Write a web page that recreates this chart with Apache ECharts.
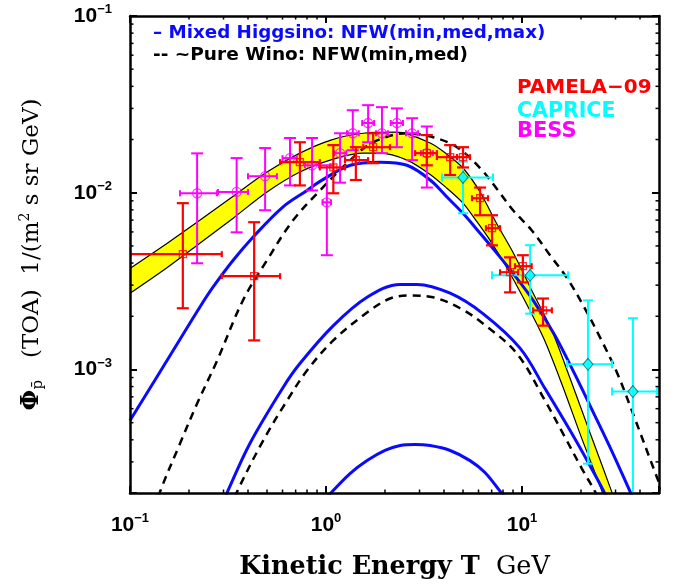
<!DOCTYPE html>
<html><head><meta charset="utf-8">
<script src="https://cdn.jsdelivr.net/npm/echarts@6/dist/echarts.min.js"></script>
<style>html,body{margin:0;padding:0;background:#fff}#c{width:681px;height:588px}</style>
</head><body><div id="c"></div>
<script>
// ---------- curves ----------
var bandUpperT   = [0.1, 0.155, 0.227, 0.336, 0.5, 0.736, 1.05, 1.55, 2.30, 3.40, 4.14, 5.0, 6.11, 7.36, 9.10, 11.2, 14.2, 17.6, 22.2, 28.8, 30.9];
var bandUpperPhi = [3.73e-3, 5.18e-3, 6.98e-3, 9.55e-3, 1.31e-2, 1.675e-2, 1.98e-2, 2.17e-2, 2.20e-2, 1.91e-2, 1.65e-2, 1.38e-2, 1.01e-2, 6.81e-3, 4.49e-3, 2.81e-3, 1.66e-3, 8.89e-4, 4.40e-4, 2.01e-4, 1.59e-4];
var bandLowerT   = [0.1, 0.155, 0.227, 0.336, 0.5, 0.736, 1.09, 1.55, 1.89, 2.59, 3.40, 4.14, 5.0, 5.82, 6.87, 8.28, 10.2, 12.9, 16.0, 20.2, 26.2, 27.5];
var bandLowerPhi = [2.70e-3, 3.78e-3, 5.18e-3, 7.18e-3, 1.01e-2, 1.31e-2, 1.55e-2, 1.675e-2, 1.675e-2, 1.53e-2, 1.27e-2, 1.06e-2, 8.73e-3, 6.98e-3, 5.38e-3, 3.84e-3, 2.52e-3, 1.50e-3, 8.22e-4, 4.06e-4, 1.91e-4, 1.59e-4];

var higgsMaxT   = [0.1, 0.166, 0.227, 0.265, 0.336, 0.425, 0.604, 0.800, 0.932, 1.33, 1.89, 2.59, 3.40, 4.14, 5.0, 6.11, 7.45, 9.0, 11.4, 14.7, 18.4, 23.0, 28.8, 36.0, 38.6];
var higgsMaxPhi = [5.14e-4, 1.28e-3, 2.25e-3, 2.92e-3, 4.15e-3, 5.62e-3, 8.32e-3, 1.03e-2, 1.16e-2, 1.43e-2, 1.49e-2, 1.43e-2, 1.18e-2, 9.46e-3, 7.65e-3, 5.90e-3, 4.54e-3, 3.50e-3, 2.46e-3, 1.56e-3, 9.62e-4, 5.78e-4, 3.43e-4, 1.98e-4, 1.67e-4];
var higgsMedT   = [0.285, 0.311, 0.409, 0.604, 0.736, 1.09, 1.62, 2.39, 2.91, 4.30, 6.32, 9.77, 13.1, 17.6, 22.2, 26.5, 28.1];
var higgsMedPhi = [1.59e-4, 1.98e-4, 3.81e-4, 7.91e-4, 1.08e-3, 1.77e-3, 2.56e-3, 3.03e-3, 3.03e-3, 2.70e-3, 2.07e-3, 1.32e-3, 7.80e-4, 4.51e-4, 2.86e-4, 1.98e-4, 1.69e-4];
var higgsMinT   = [0.966, 1.05, 1.33, 1.62, 2.0, 2.39, 2.85, 3.40, 4.30, 5.43, 6.47, 7.91, 8.49];
var higgsMinPhi = [1.79e-4, 1.98e-4, 2.58e-4, 3.05e-4, 3.48e-4, 3.71e-4, 3.76e-4, 3.71e-4, 3.48e-4, 3.05e-4, 2.61e-4, 1.98e-4, 1.81e-4];

var winoMedT   = [0.134, 0.142, 0.180, 0.220, 0.278, 0.377, 0.5, 0.679, 0.932, 1.33, 1.74, 2.59, 3.52, 4.66, 6.11, 7.45, 9.0, 11.2, 13.9, 17.0, 20.5, 25.0, 30.5, 36.8, 48.9, 53.7];
var winoMedPhi = [1.59e-4, 2.02e-4, 3.81e-4, 6.41e-4, 1.12e-3, 2.46e-3, 4.15e-3, 6.98e-3, 1.03e-2, 1.53e-2, 1.93e-2, 2.17e-2, 2.06e-2, 1.81e-2, 1.38e-2, 1.05e-2, 7.96e-3, 6.14e-3, 4.43e-3, 3.28e-3, 2.31e-3, 1.52e-3, 9.62e-4, 5.64e-4, 2.44e-4, 1.88e-4];
var winoMinT   = [0.324, 0.350, 0.478, 0.633, 0.800, 1.09, 1.62, 2.12, 2.68, 3.52, 4.83, 6.32, 9.42, 13.1, 16.6, 20.2, 23.9, 25.3];
var winoMinPhi = [1.59e-4, 2.01e-4, 3.96e-4, 6.67e-4, 9.86e-4, 1.46e-3, 2.10e-3, 2.52e-3, 2.62e-3, 2.56e-3, 2.22e-3, 1.82e-3, 1.23e-3, 6.67e-4, 4.12e-4, 2.75e-4, 1.98e-4, 1.69e-4];

// ---------- data points ----------
var pamT     = [0.186, 0.430, 0.736, 1.09, 1.42, 1.74, 3.27, 4.30, 5.0, 6.11, 7.03, 8.69, 10.1, 12.8];
var pamPhi   = [4.49e-3, 3.37e-3, 1.49e-2, 1.39e-2, 1.53e-2, 1.81e-2, 1.675e-2, 1.59e-2, 1.59e-2, 9.31e-3, 6.30e-3, 3.55e-3, 3.84e-3, 2.16e-3];
var pamTlo   = [0.1, 0.294, 0.583, 0.93, 1.25, 1.55, 2.85, 3.68, 4.66, 5.56, 6.55, 7.73, 9.21, 11.4];
var pamThi   = [0.294, 0.583, 0.93, 1.25, 1.64, 2.12, 3.68, 4.66, 5.43, 6.71, 7.73, 9.55, 11.2, 14.2];
var pamPhiLo = [2.22e-3, 1.46e-3, 1.10e-2, 9.93e-3, 1.18e-2, 1.47e-2, 1.43e-2, 1.26e-2, 1.39e-2, 7.46e-3, 5.04e-3, 2.73e-3, 3.11e-3, 1.77e-3];
var pamPhiHi = [8.73e-3, 6.81e-3, 1.93e-2, 1.86e-2, 1.81e-2, 2.17e-2, 2.12e-2, 1.86e-2, 1.81e-2, 1.07e-2, 7.46e-3, 4.31e-3, 4.43e-3, 2.52e-3];

var bessT     = [0.220, 0.350, 0.489, 0.655, 0.849, 1.01, 1.18, 1.37, 1.64, 1.93, 2.30, 2.75, 3.27];
var bessPhi   = [9.93e-3, 1.01e-2, 1.24e-2, 1.57e-2, 1.43e-2, 8.83e-3, 1.675e-2, 2.17e-2, 2.48e-2, 2.17e-2, 2.48e-2, 2.17e-2, 1.675e-2];
var bessTlo   = [0.180, 0.281, 0.400, 0.60, 0.78, 0.96, 1.10, 1.28, 1.53, 1.80, 2.14, 2.56, 3.05];
var bessThi   = [0.278, 0.400, 0.562, 0.71, 0.92, 1.06, 1.27, 1.47, 1.76, 2.07, 2.47, 2.95, 3.51];
var bessPhiLo = [3.99e-3, 5.97e-3, 7.96e-3, 1.10e-2, 1.03e-2, 4.43e-3, 1.14e-2, 1.74e-2, 1.93e-2, 1.675e-2, 1.81e-2, 1.53e-2, 1.07e-2];
var bessPhiHi = [1.67e-2, 1.57e-2, 1.79e-2, 2.04e-2, 2.04e-2, 1.43e-2, 2.17e-2, 2.93e-2, 3.13e-2, 3.05e-2, 3.0e-2, 2.64e-2, 2.37e-2];

var capT     = [5.0, 11.0, 21.7, 36.8];
var capPhi   = [1.22e-2, 3.41e-3, 1.07e-3, 7.5e-4];
var capTlo   = [3.91, 7.03, 17.0, 28.8];
var capThi   = [7.11, 17.2, 28.8, 48.9];
var capPhiLo = [7.65e-3, 2.07e-3, 2.93e-4, 1e-4];
var capPhiHi = [1.5e-2, 5.05e-3, 2.46e-3, 1.95e-3];

// ---------- axes / ticks ----------
var xMin = 0.1, xMax = 50, yMin = 2e-4, yMax = 0.1;
var xMinorTicks = [0.2,0.3,0.4,0.5,0.6,0.7,0.8,0.9,2,3,4,5,6,7,8,9,20,30,40];
var yMinorTicks = [3e-4,4e-4,5e-4,6e-4,7e-4,8e-4,9e-4,2e-3,3e-3,4e-3,5e-3,6e-3,7e-3,8e-3,9e-3,2e-2,3e-2,4e-2,5e-2,6e-2,7e-2,8e-2,9e-2];

var legendHiggs = '– Mixed Higgsino: NFW(min,med,max)';
var legendWino  = '-- ~Pure Wino: NFW(min,med)';
var legendData  = ['PAMELA−09', 'CAPRICE', 'BESS'];

var BLUE = '#0a0aff', RED = '#ff0000', MAG = '#ff00ff', CYAN = '#00ffff';

function zip(a, b) { return a.map(function (v, i) { return [v, b[i]]; }); }
function zip6(a, b, c, d, e, f) { return a.map(function (v, i) { return [v, b[i], c[i], d[i], e[i], f[i]]; }); }

function powLabel(v) {
  var l = Math.log10(v), e = Math.round(l);
  if (Math.abs(l - e) > 1e-6) return '';
  return '{b|10}{s|' + (e < 0 ? '\u2212' + (-e) : '' + e) + '}';
}
var tickRich = {
  b: { fontFamily: 'Liberation Sans', fontWeight: 'bold', fontSize: 21, lineHeight: 26, color: '#000' },
  s: { fontFamily: 'Liberation Sans', fontWeight: 'bold', fontSize: 13, lineHeight: 10, verticalAlign: 'top', color: '#000' }
};

function errorBars(color, capYHalf, capXHalf, lw) {
  return function (params, api) {
    var c  = api.coord([api.value(0), api.value(1)]);
    var xl = api.coord([api.value(2), api.value(1)]);
    var xh = api.coord([api.value(3), api.value(1)]);
    var yl = api.coord([api.value(0), api.value(4)]);
    var yh = api.coord([api.value(0), api.value(5)]);
    var st = { stroke: color, lineWidth: lw, fill: null };
    function ln(x1, y1, x2, y2) { return { type: 'line', shape: { x1: x1, y1: y1, x2: x2, y2: y2 }, style: st }; }
    return { type: 'group', children: [
      ln(xl[0], c[1], xh[0], c[1]),
      ln(c[0], yl[1], c[0], yh[1]),
      ln(c[0] - capYHalf, yl[1], c[0] + capYHalf, yl[1]),
      ln(c[0] - capYHalf, yh[1], c[0] + capYHalf, yh[1]),
      ln(xl[0], c[1] - capXHalf, xl[0], c[1] + capXHalf),
      ln(xh[0], c[1] - capXHalf, xh[0], c[1] + capXHalf)
    ] };
  };
}

function curve(name, t, phi, color, dashed, width) {
  return {
    name: name, type: 'line', z: 3, data: zip(t, phi), showSymbol: false, symbol: 'none',
    smooth: 0.35, clip: true, silent: true,
    lineStyle: { color: color, width: width, type: dashed ? [8, 6] : 'solid' }
  };
}

var axisCommon = {
  type: 'log', logBase: 10, z: 8,
  axisLine: { show: true, lineStyle: { color: '#000', width: 2.5 } },
  axisTick: { show: true, inside: true, length: 7, lineStyle: { color: '#000', width: 2 } },
  splitLine: { show: false }
};
function ax(extra) { var o = JSON.parse(JSON.stringify(axisCommon)); for (var k in extra) o[k] = extra[k]; return o; }

var chart = echarts.init(document.getElementById('c'), null, { renderer: 'canvas' });
var option = {
  animation: false,
  backgroundColor: '#fff',
  grid: { left: 130, right: 22, top: 16, bottom: 95, containLabel: false, outerBoundsMode: 'none' },
  xAxis: [ax({
    min: xMin, max: xMax, position: 'bottom',
    axisLabel: { formatter: powLabel, rich: tickRich, margin: 19 },
    name: '{b|Kinetic Energy T}{r|  GeV}', nameLocation: 'middle', nameGap: 61,
    nameTextStyle: { rich: {
      b: { fontFamily: 'DejaVu Serif', fontWeight: 'bold', fontSize: 25.5, color: '#000' },
      r: { fontFamily: 'DejaVu Serif', fontSize: 25.5, color: '#000' } } }
  }), ax({ min: xMin, max: xMax, position: 'top', axisLabel: { show: false } })],
  yAxis: [ax({
    min: yMin, max: yMax, position: 'left',
    axisLabel: { formatter: powLabel, rich: tickRich, margin: 18 },
    name: '{phi|Φ}{sub|p̄}{r|   (TOA)  1/(m}{sup|2}{r| s sr GeV)}',
    nameLocation: 'middle', nameGap: 84, nameRotate: 90,
    nameTextStyle: { rich: {
      phi: { fontFamily: 'DejaVu Serif', fontWeight: 'bold', fontSize: 24, color: '#000', lineHeight: 28 },
      sub: { fontFamily: 'DejaVu Serif', fontSize: 15, color: '#000', verticalAlign: 'bottom', lineHeight: 14 },
      sup: { fontFamily: 'DejaVu Serif', fontSize: 14, color: '#000', verticalAlign: 'top', lineHeight: 14 },
      r: { fontFamily: 'DejaVu Serif', fontSize: 23, color: '#000', lineHeight: 28 } } }
  }), ax({ min: yMin, max: yMax, position: 'right', axisLabel: { show: false } })],
  graphic: [
    { type: 'text', left: 153, top: 24, style: { text: legendHiggs, fill: BLUE, font: 'bold 18.3px "DejaVu Sans"' } },
    { type: 'text', left: 153, top: 46, style: { text: legendWino, fill: '#000', font: 'bold 18.5px "DejaVu Sans"' } },
    { type: 'text', left: 517, top: 78, style: { text: legendData[0], fill: RED, font: 'bold 20px "DejaVu Sans"' } },
    { type: 'text', left: 517, top: 101, style: { text: legendData[1], fill: CYAN, font: 'bold 20.5px "DejaVu Sans"' } },
    { type: 'text', left: 517, top: 121, style: { text: legendData[2], fill: MAG, font: 'bold 21px "DejaVu Sans"' } }
  ],
  series: [
    // band: yellow fill under the upper edge, white fill under the lower edge
    { name: 'band upper', type: 'line', z: 1, data: zip(bandUpperT, bandUpperPhi), symbol: 'none', smooth: 0.3, clip: true, silent: true,
      lineStyle: { color: '#000', width: 1.2 }, areaStyle: { color: '#ffff00', opacity: 1, origin: 'start' } },
    { name: 'band lower', type: 'line', z: 1, data: zip(bandLowerT, bandLowerPhi), symbol: 'none', smooth: 0.3, clip: true, silent: true,
      lineStyle: { color: '#000', width: 1.2 }, areaStyle: { color: '#ffffff', opacity: 1, origin: 'start' } },
    curve('Higgsino max', higgsMaxT, higgsMaxPhi, BLUE, false, 3),
    curve('Higgsino med', higgsMedT, higgsMedPhi, BLUE, false, 3),
    curve('Higgsino min', higgsMinT, higgsMinPhi, BLUE, false, 3),
    curve('Wino med', winoMedT, winoMedPhi, '#000', true, 2.5),
    curve('Wino min', winoMinT, winoMinPhi, '#000', true, 2.5),
    { type: 'custom', name: 'BESS err', z: 4, clip: true, silent: true, encode: { x: 0, y: 1 },
      data: zip6(bessT, bessPhi, bessTlo, bessThi, bessPhiLo, bessPhiHi), renderItem: errorBars(MAG, 6, 3, 2) },
    { type: 'scatter', name: 'BESS', z: 4, data: zip(bessT, bessPhi), symbol: 'circle', symbolSize: 9, silent: true,
      itemStyle: { color: 'rgba(0,0,0,0)', borderColor: MAG, borderWidth: 1.3 } },
    { type: 'custom', name: 'CAPRICE err', z: 5, clip: true, silent: true, encode: { x: 0, y: 1 },
      data: zip6(capT, capPhi, capTlo, capThi, capPhiLo, capPhiHi), renderItem: errorBars(CYAN, 5, 4, 2) },
    { type: 'scatter', name: 'CAPRICE', z: 5, data: zip(capT, capPhi), symbol: 'diamond', symbolSize: [10, 12], silent: true,
      itemStyle: { color: CYAN, borderColor: '#006060', borderWidth: 1 } },
    { type: 'custom', name: 'PAMELA err', z: 6, clip: true, silent: true, encode: { x: 0, y: 1 },
      data: zip6(pamT, pamPhi, pamTlo, pamThi, pamPhiLo, pamPhiHi), renderItem: errorBars(RED, 6, 3, 2.2) },
    { type: 'scatter', name: 'PAMELA', z: 6, data: zip(pamT, pamPhi), symbol: 'rect', symbolSize: 7, silent: true,
      itemStyle: { color: 'rgba(0,0,0,0)', borderColor: RED, borderWidth: 1.3 } },
    { type: 'custom', name: 'minor ticks', silent: true, data: [[1, 0.01]], z: 10,
      renderItem: function (params, api) {
        var cs = params.coordSys, L = cs.x, R = cs.x + cs.width, T = cs.y, B = cs.y + cs.height, ch = [];
        var st = { stroke: '#000', lineWidth: 1.5 };
        xMinorTicks.forEach(function (v) {
          var p = api.coord([v, 0.01])[0];
          ch.push({ type: 'line', shape: { x1: p, y1: B, x2: p, y2: B - 3.5 }, style: st });
          ch.push({ type: 'line', shape: { x1: p, y1: T, x2: p, y2: T + 3.5 }, style: st });
        });
        yMinorTicks.forEach(function (v) {
          var p = api.coord([1, v])[1];
          ch.push({ type: 'line', shape: { x1: L, y1: p, x2: L + 3.5, y2: p }, style: st });
          ch.push({ type: 'line', shape: { x1: R, y1: p, x2: R - 3.5, y2: p }, style: st });
        });
        return { type: 'group', children: ch };
      } }
  ]
};
chart.setOption(option);
</script></body></html>
